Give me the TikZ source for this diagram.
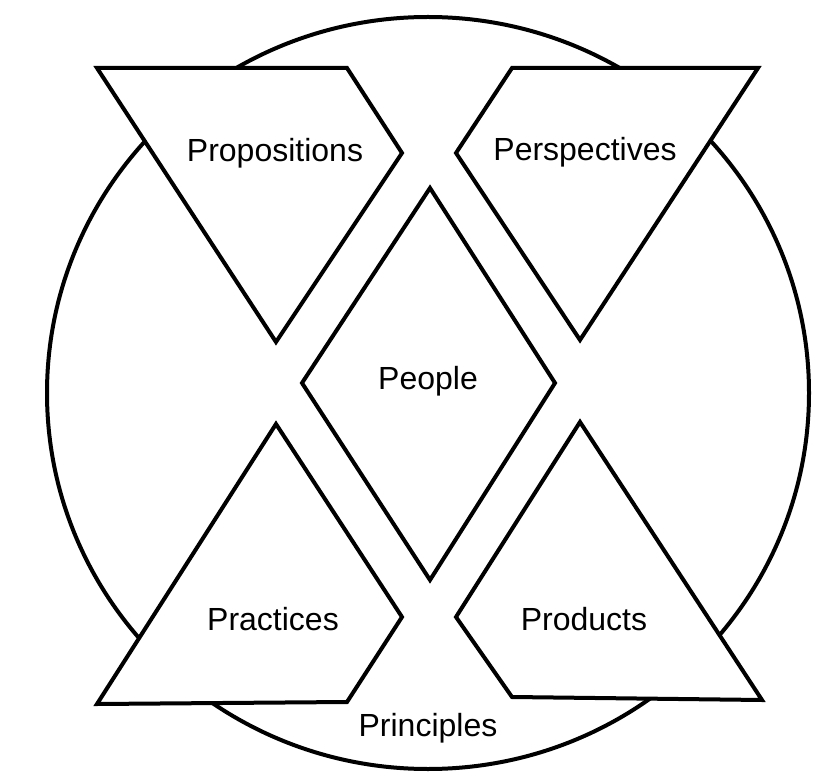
\documentclass[tikz,border=0pt]{standalone}
\usepackage{fontspec}
\setmainfont{Liberation Sans}
\usetikzlibrary{positioning}

\begin{document}
\begin{tikzpicture}[x=0.75pt, y=-0.75pt,
        piece/.style={draw=black, fill=white, line width=3pt, line join=miter},
        lbl/.style={font=\fontsize{24}{28}\selectfont, inner sep=0pt}]
      \useasboundingbox (0,0) rectangle (835,773);
      % Outer circle
      \draw[line width=3pt] (428,393) ellipse [x radius=381, y radius=376];
      % Four corner pieces and the centre diamond
      \draw[piece] (97,68) -- (347,68) -- (402,153) -- (276,342) -- cycle;
      \draw[piece] (512,68) -- (758,68) -- (580,340) -- (456,153) -- cycle;
      \draw[piece] (430,188) -- (555,383) -- (430,580) -- (302,383) -- cycle;
      \draw[piece] (276,424) -- (402,617) -- (347,702) -- (97,704) -- cycle;
      \draw[piece] (580,422) -- (762,700) -- (512,697) -- (456,617) -- cycle;
      % Labels
      \node[lbl] (propositions) at (275,153) {Propositions};
      \node[lbl] (perspectives) at (585,152) {Perspectives};
      \node[lbl] (people) at (428,381) {People};
      \node[lbl] (practices) at (273,619) {Practices};
      \node[lbl] (products) at (584,619) {Products};
      \node[lbl] (principles) at (428,728) {Principles};
    \end{tikzpicture}
\end{document}
